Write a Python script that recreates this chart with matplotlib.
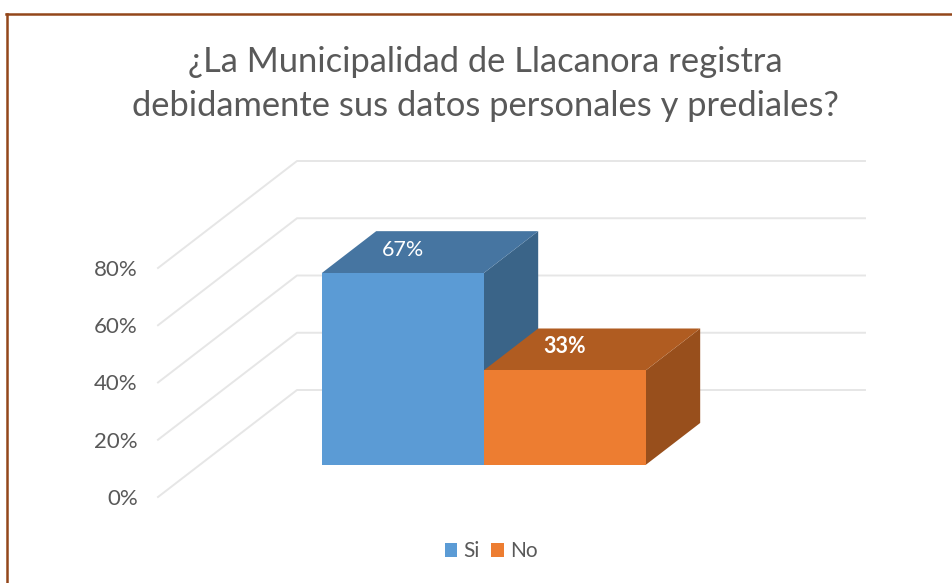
import matplotlib
matplotlib.use("Agg")
import matplotlib.pyplot as plt
from matplotlib.patches import Polygon, Patch
from matplotlib.lines import Line2D

W, H = 953, 583

title = "¿La Municipalidad de Llacanora registra\ndebidamente sus datos personales y prediales?"
categories = ["Si", "No"]
values = [67, 33]
value_labels = ["67%", "33%"]
label_weights = ["normal", "bold"]
front_colors = ["#5B9BD5", "#ED7D31"]
top_colors = ["#4675A1", "#B05C21"]
side_colors = ["#3A6488", "#984F1C"]
y_ticks = [0, 20, 40, 60, 80]
y_ticklabels = ["0%", "20%", "40%", "60%", "80%"]

# oblique 3D: how far the back wall is shifted, in data units
DEPTH_X = 139 / 568
DEPTH_Y = 107 / (229 / 80)
BAR_WIDTH = 162 / 568
BAR_DEPTH = (0.30, 0.692)

plt.rcParams["font.family"] = ["Lato", "DejaVu Sans"]

fig = plt.figure(figsize=(W / 100, H / 100), dpi=100)
ax = fig.add_axes([158 / W, 1 - 497 / H, 568 / W, 229 / H])
ax.set_xlim(0, 1)
ax.set_ylim(0, 80)
for s in ax.spines.values():
    s.set_visible(False)
ax.set_xticks([])
ax.set_yticks(y_ticks)
ax.set_yticklabels(y_ticklabels, fontsize=16, color="#595959")
ax.tick_params(axis="y", length=0, pad=14.5)


def proj(x, y, d):
    return x + d * DEPTH_X, y + d * DEPTH_Y


# walls
for t in y_ticks:
    xs, ys = zip(proj(0, t, 0), proj(0, t, 1), proj(1, t, 1))
    ax.plot(xs, ys, color="#E6E6E6", lw=1.4, clip_on=False, zorder=1)

# bars
start = 0.5 - BAR_WIDTH * len(values) / 2
d0, d1 = BAR_DEPTH
for i, v in enumerate(values):
    x0 = start + i * BAR_WIDTH
    x1 = x0 + BAR_WIDTH
    z = 2 + i
    front = [proj(x0, 0, d0), proj(x1, 0, d0), proj(x1, v, d0), proj(x0, v, d0)]
    top = [proj(x0, v, d0), proj(x1, v, d0), proj(x1, v, d1), proj(x0, v, d1)]
    side = [proj(x1, 0, d0), proj(x1, 0, d1), proj(x1, v, d1), proj(x1, v, d0)]
    ax.add_patch(Polygon(side, fc=side_colors[i], ec="none", clip_on=False, zorder=z))
    ax.add_patch(Polygon(top, fc=top_colors[i], ec="none", clip_on=False, zorder=z))
    ax.add_patch(Polygon(front, fc=front_colors[i], ec="none", clip_on=False, zorder=z))
    ax.annotate(value_labels[i], proj((x0 + x1) / 2, v, d0), xytext=(0, 17),
                textcoords="offset points", ha="center", va="center", color="white",
                fontsize=15.5, fontweight=label_weights[i], zorder=5)

fig.text(485.5 / W, 1 - 84 / H, title, ha="center", va="center", fontsize=24.8,
         color="#595959", linespacing=1.48)

handles = [Patch(fc=c, ec="none") for c in front_colors]
fig.legend(handles, categories, loc="center", bbox_to_anchor=(491 / W, 1 - 551 / H), ncol=2,
           frameon=False, fontsize=15, labelcolor="#595959", handlelength=0.6,
           handleheight=0.65, handletextpad=0.3, columnspacing=0.55)

# brown frame, open on the right and at the bottom
frame = "#93461A"
fig.add_artist(Line2D([7 / W, 7 / W], [0, 1 - 14 / H], color=frame, lw=1.8))
fig.add_artist(Line2D([6 / W, 1], [1 - 14 / H, 1 - 14 / H], color=frame, lw=1.8))

fig.savefig("out.png", dpi=100)
